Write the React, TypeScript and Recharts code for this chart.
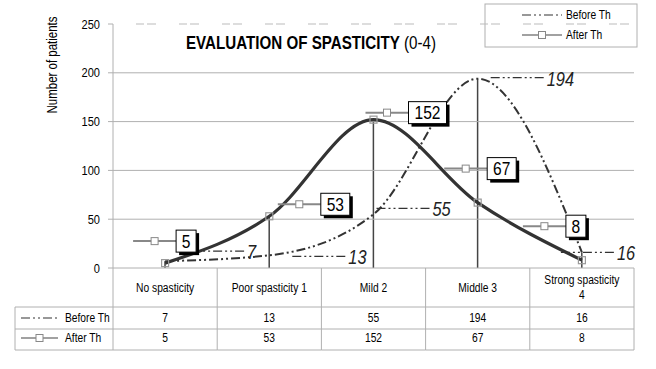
import React from 'react';
import { ComposedChart, Line, Bar, XAxis, YAxis, ReferenceLine, LabelList, Customized } from 'recharts';

// values
const categories = ['No spasticity', 'Poor spasticity 1', 'Mild 2', 'Middle 3', 'Strong spasticity 4'];
const beforeTh = [7, 13, 55, 194, 16];
const afterTh = [5, 53, 152, 67, 8];
const yTicks = [0, 50, 100, 150, 200, 250];
const gridValues = [50, 100, 150, 200];
const seriesNames = ['Before Th', 'After Th'];

// label placement (layout only) relative to each point
const afterLabelOffset = [[21, -22], [66, -12], [54, -7], [24, -34], [-6, -34]];
const beforeLabelOffset = [[82, -9], [79, 2], [59, -5], [69, 0], [35, 1]];

const data = categories.map((name, i) => ({ name, before: beforeTh[i], after: afterTh[i] }));

const FONT = '"Liberation Sans", Arial, sans-serif';
const NARROW = 0.82; // squeeze Liberation Sans to look like Arial Narrow
const W = 656;
const H = 369;
const PLOT_LEFT = 113;
const PLOT_RIGHT = 634;
const PLOT_TOP = 24;
const PLOT_BOTTOM = 268;
const HALF = (PLOT_RIGHT - PLOT_LEFT) / categories.length / 2;
const ROW1 = 307;
const ROW2 = 329;
const ROW3 = 350;
const TABLE_LEFT = 15;
const GRID = '#b0b0b0';
const LINE = '#333';
const BEFORE_DASH = '9 3 2 3 2 3';

function NText({ x, y, size, anchor = 'start', weight, italic, fill = '#000', rotate, children }: any) {
  const t = `translate(${x},${y})${rotate ? ` rotate(${rotate})` : ''} scale(${NARROW},1)`;
  return (
    <text
      transform={t}
      fontFamily={FONT}
      fontSize={size}
      textAnchor={anchor}
      fontWeight={weight}
      fontStyle={italic ? 'italic' : undefined}
      fill={fill}
    >
      {children}
    </text>
  );
}

function BeforeKey({ x1, x2, y, w = 1.5 }: any) {
  return <line x1={x1} x2={x2} y1={y} y2={y} stroke={LINE} strokeWidth={w} strokeDasharray={BEFORE_DASH} />;
}

function AfterKey({ x1, x2, y, color = '#555', w = 1.5 }: any) {
  const mid = (x1 + x2) / 2;
  return (
    <g>
      <line x1={x1} x2={x2} y1={y} y2={y} stroke={color} strokeWidth={w} />
      <rect x={mid - 3.5} y={y - 3.5} width={7} height={7} fill="#fff" stroke="#888" strokeWidth={1} />
    </g>
  );
}

function TableCell(props: any) {
  const { x, payload, index } = props;
  const lines = String(payload.value) === 'Strong spasticity 4' ? ['Strong spasticity', '4'] : [String(payload.value)];
  const l = x - HALF;
  const r = x + HALF;
  return (
    <g>
      <line x1={r} x2={r} y1={PLOT_BOTTOM} y2={ROW3} stroke={GRID} />
      {index === 0 && (
        <g>
          <line x1={l} x2={l} y1={PLOT_BOTTOM} y2={ROW3} stroke={GRID} />
          <line x1={TABLE_LEFT} x2={TABLE_LEFT} y1={ROW1} y2={ROW3} stroke={GRID} />
          {[ROW1, ROW2, ROW3].map((yy) => (
            <line key={yy} x1={TABLE_LEFT} x2={l} y1={yy} y2={yy} stroke={GRID} />
          ))}
          <BeforeKey x1={21} x2={58} y={318} w={1.2} />
          <NText x={65} y={322} size={12.5}>{seriesNames[0]}</NText>
          <AfterKey x1={21} x2={58} y={338} color="#444" w={1.2} />
          <NText x={65} y={342} size={12.5}>{seriesNames[1]}</NText>
        </g>
      )}
      {[ROW1, ROW2, ROW3].map((yy) => (
        <line key={yy} x1={l} x2={r} y1={yy} y2={yy} stroke={GRID} />
      ))}
      {lines.length === 1 ? (
        <NText x={x} y={292} size={12.5} anchor="middle">{lines[0]}</NText>
      ) : (
        <g>
          <NText x={x} y={284} size={12.5} anchor="middle">{lines[0]}</NText>
          <NText x={x} y={299} size={12.5} anchor="middle">{lines[1]}</NText>
        </g>
      )}
      <NText x={x} y={322} size={12.5} anchor="middle">{beforeTh[index]}</NText>
      <NText x={x} y={342} size={12.5} anchor="middle">{afterTh[index]}</NText>
    </g>
  );
}

function YTick(props: any) {
  const { x, y, payload } = props;
  return <NText x={x} y={y + 4.5} size={13.5} anchor="end">{payload.value}</NText>;
}

function AfterLabel(props: any) {
  const { x, y, value, index } = props;
  const [dx, dy] = afterLabelOffset[index];
  const txt = String(value);
  const bw = txt.length * 9 + 11;
  const bh = 22;
  const cx = x + dx;
  const cy = y + dy;
  const bx = cx - bw / 2;
  const by = cy - bh / 2;
  return (
    <g>
      <AfterKey x1={bx - 43} x2={bx} y={cy} color="#888" w={2} />
      <rect x={bx + 3} y={by + 3} width={bw} height={bh} fill="#000" />
      <rect x={bx} y={by} width={bw} height={bh} fill="#fff" stroke="#000" strokeWidth={1} />
      <NText x={cx} y={cy + 6.5} size={19} anchor="middle">{txt}</NText>
    </g>
  );
}

function BeforeLabel(props: any) {
  const { x, y, value, index } = props;
  const [dx, dy] = beforeLabelOffset[index];
  const tx = x + dx;
  const ty = y + dy;
  return (
    <g>
      <BeforeKey x1={tx - 56} x2={tx - 2} y={ty - 1} w={1.2} />
      <NText x={tx} y={ty + 7} size={20} italic fill="#222">{String(value)}</NText>
    </g>
  );
}

function SquareDot(props: any) {
  const { cx, cy } = props;
  if (cx == null || cy == null) return null;
  return <rect x={cx - 3.5} y={cy - 3.5} width={7} height={7} fill="none" stroke="#999" strokeWidth={1.2} />;
}

function DropLine(props: any) {
  const { x, y, width, height } = props;
  if (height == null) return null;
  const mx = x + width / 2;
  return <line x1={mx} x2={mx} y1={y} y2={y + height} stroke="#444" strokeWidth={1.5} />;
}

function Overlay() {
  return (
    <g>
      <NText x={311} y={49} size={18.5} anchor="middle">
        <tspan fontWeight="bold">EVALUATION OF SPASTICITY</tspan>
        <tspan> (0-4)</tspan>
      </NText>
      <NText x={57} y={65} size={14} anchor="middle" rotate={-90}>Number of patients</NText>
      <rect x={485} y={4} width={152} height={43} fill="#fff" stroke={GRID} />
      <BeforeKey x1={522} x2={562} y={15} w={1.2} />
      <NText x={566} y={19} size={12.5}>{seriesNames[0]}</NText>
      <AfterKey x1={522} x2={562} y={35} color="#444" w={1.2} />
      <NText x={566} y={39} size={12.5}>{seriesNames[1]}</NText>
    </g>
  );
}

export default function App() {
  return (
    <div style={{ position: 'absolute', left: 0, top: 0, width: W, height: H, background: '#fff' }}>
      <ComposedChart
        width={W}
        height={H}
        data={data}
        margin={{ top: PLOT_TOP, right: W - PLOT_RIGHT, left: PLOT_LEFT - 40, bottom: H - ROW3 }}
      >
        <ReferenceLine y={250} stroke="#bbb" strokeDasharray="8 3 9 23" strokeDashoffset={20} />
        <Customized component={Overlay} />
        {gridValues.map((v) => (
          <ReferenceLine key={v} y={v} stroke={GRID} />
        ))}
        <XAxis
          dataKey="name"
          interval={0}
          height={ROW3 - PLOT_BOTTOM}
          tickLine={false}
          axisLine={{ stroke: GRID }}
          tick={TableCell}
        />
        <YAxis
          width={40}
          domain={[0, 250]}
          ticks={yTicks}
          tickSize={5}
          tickMargin={8}
          tickLine={{ stroke: GRID }}
          axisLine={{ stroke: GRID }}
          tick={YTick}
        />
        <Bar
          dataKey={(d: any) => Math.max(d.before, d.after)}
          barSize={2}
          shape={DropLine}
          isAnimationActive={false}
        />
        <Line
          type="monotone"
          dataKey="before"
          name={seriesNames[0]}
          stroke={LINE}
          strokeWidth={2}
          strokeDasharray={BEFORE_DASH}
          dot={false}
          isAnimationActive={false}
        >
          <LabelList dataKey="before" content={BeforeLabel} />
        </Line>
        <Line
          type="monotone"
          dataKey="after"
          name={seriesNames[1]}
          stroke={LINE}
          strokeWidth={3.2}
          dot={SquareDot}
          activeDot={false}
          isAnimationActive={false}
        >
          <LabelList dataKey="after" content={AfterLabel} />
        </Line>
      </ComposedChart>
    </div>
  );
}
